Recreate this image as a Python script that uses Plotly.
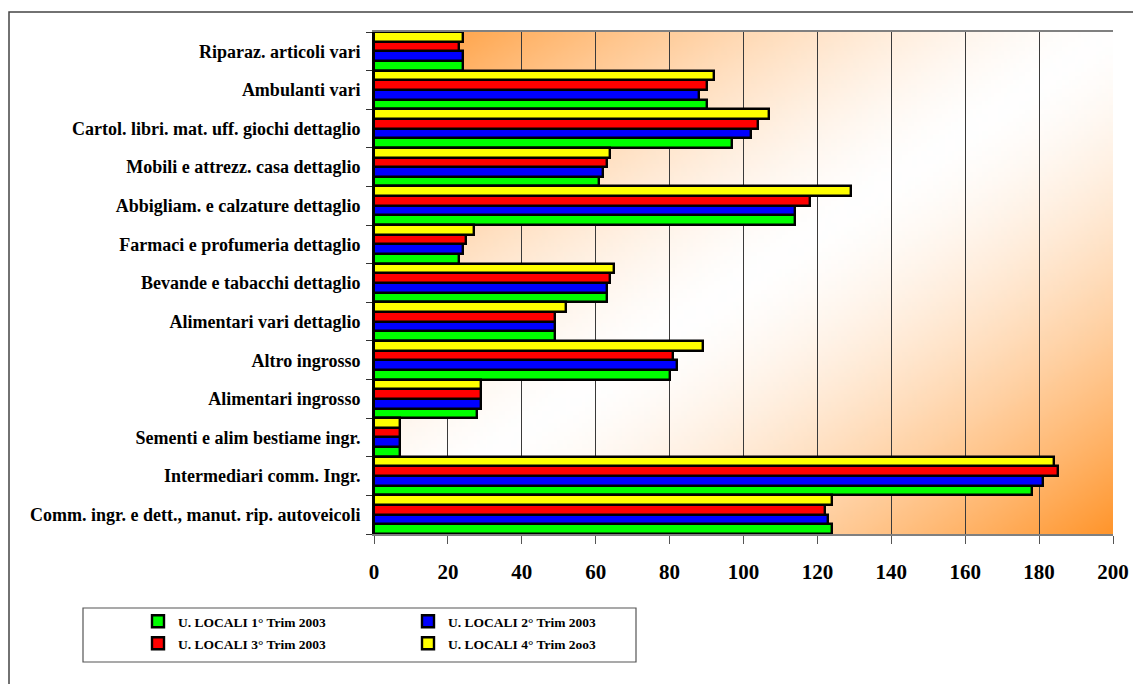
import base64
import struct
import zlib

import numpy as np
import plotly.graph_objects as go

categories = [
    "Comm. ingr. e dett., manut. rip. autoveicoli",
    "Intermediari comm. Ingr.",
    "Sementi e alim bestiame ingr.",
    "Alimentari ingrosso",
    "Altro ingrosso",
    "Alimentari vari dettaglio",
    "Bevande e tabacchi dettaglio",
    "Farmaci e profumeria dettaglio",
    "Abbigliam. e calzature dettaglio",
    "Mobili e attrezz. casa dettaglio",
    "Cartol. libri. mat. uff. giochi dettaglio",
    "Ambulanti vari",
    "Riparaz. articoli vari",
]

trim1 = [124, 178, 7, 28, 80, 49, 63, 23, 114, 61, 97, 90, 24]
trim2 = [123, 181, 7, 29, 82, 49, 63, 24, 114, 62, 102, 88, 24]
trim3 = [122, 185, 7, 29, 81, 49, 64, 25, 118, 63, 104, 90, 23]
trim4 = [124, 184, 7, 29, 89, 52, 65, 27, 129, 64, 107, 92, 24]

series_names = [
    "U. LOCALI 1° Trim 2003",
    "U. LOCALI 2° Trim 2003",
    "U. LOCALI 3° Trim 2003",
    "U. LOCALI 4° Trim 2oo3",
]
series_values = [trim1, trim2, trim3, trim4]
series_colors = ["#00FF00", "#0000FF", "#FF0000", "#FFFF00"]
series_legends = ["legend", "legend", "legend2", "legend2"]

x_ticks = [0, 20, 40, 60, 80, 100, 120, 140, 160, 180, 200]


def make_gradient_png(w=240, h=120):
    u = np.linspace(0, 1, w)[None, :]
    v = np.linspace(1, 0, h)[:, None]
    t = np.abs(u - v) ** 1.5
    orange = np.array([255, 150, 45], dtype=float)
    white = np.array([255, 255, 255], dtype=float)
    img = white[None, None, :] * (1 - t[..., None]) + orange[None, None, :] * t[..., None]
    img = np.clip(img, 0, 255).astype(np.uint8)
    raw = b"".join(b"\x00" + img[r].tobytes() for r in range(h))

    def chunk(tag, data):
        c = struct.pack(">I", len(data)) + tag + data
        return c + struct.pack(">I", zlib.crc32(tag + data) & 0xFFFFFFFF)

    png = b"\x89PNG\r\n\x1a\n"
    png += chunk(b"IHDR", struct.pack(">IIBBBBB", w, h, 8, 2, 0, 0, 0))
    png += chunk(b"IDAT", zlib.compress(raw, 9))
    png += chunk(b"IEND", b"")
    return "data:image/png;base64," + base64.b64encode(png).decode()


font_family = "Liberation Serif"

# plot area in pixels
PL, PR, PT, PB = 374, 1113, 32, 534
PW, PH = PR - PL, PB - PT

fig = go.Figure()
for name, vals, col, lg in zip(series_names, series_values, series_colors, series_legends):
    fig.add_trace(
        go.Bar(
            y=categories,
            x=vals,
            name=name,
            orientation="h",
            legend=lg,
            marker=dict(color=col, line=dict(color="black", width=2.4)),
        )
    )

legend_common = dict(
    orientation="h",
    x=(138 - PL) / PW,
    xanchor="left",
    yanchor="top",
    entrywidth=225,
    entrywidthmode="pixels",
    itemwidth=30,
    font=dict(family=font_family, size=13.5, color="black", weight="bold"),
    bgcolor="rgba(0,0,0,0)",
    tracegroupgap=0,
)

fig.update_layout(
    width=1133,
    height=684,
    margin=dict(l=PL, r=1133 - PR, t=PT, b=684 - PB, autoexpand=False),
    barmode="group",
    bargap=0,
    bargroupgap=0,
    paper_bgcolor="white",
    plot_bgcolor="white",
    showlegend=True,
    legend=dict(legend_common, y=-(606 - PB) / PH),
    legend2=dict(legend_common, y=-(628 - PB) / PH),
    xaxis=dict(
        range=[0, 200],
        tickvals=x_ticks,
        showgrid=True,
        gridcolor="#3a3a3a",
        gridwidth=1,
        zeroline=False,
        showline=True,
        linecolor="#808080",
        linewidth=2,
        mirror=True,
        ticks="outside",
        ticklen=8,
        tickcolor="#555555",
        tickfont=dict(family=font_family, size=21, color="black", weight="bold"),
        ticklabelstandoff=10,
        automargin=False,
    ),
    yaxis=dict(
        categoryorder="array",
        categoryarray=categories,
        showgrid=False,
        zeroline=False,
        showline=True,
        linecolor="black",
        linewidth=2,
        ticks="outside",
        tickson="boundaries",
        ticklen=6,
        tickcolor="#333333",
        tickfont=dict(family=font_family, size=18, color="black", weight="bold"),
        ticklabelstandoff=8,
        automargin=False,
    ),
    images=[
        dict(
            source=make_gradient_png(),
            xref="x domain",
            yref="y domain",
            x=0,
            y=1,
            sizex=1,
            sizey=1,
            sizing="stretch",
            layer="below",
            xanchor="left",
            yanchor="top",
        )
    ],
    shapes=[
        dict(
            type="rect",
            xref="paper",
            yref="paper",
            x0=(9 - PL) / PW,
            x1=1.1,
            y0=-0.4,
            y1=1 + (PT - 12) / PH,
            line=dict(color="#444444", width=1.5),
            fillcolor="rgba(0,0,0,0)",
            layer="below",
        ),
        dict(
            type="rect",
            xref="paper",
            yref="paper",
            x0=(83 - PL) / PW,
            x1=(636 - PL) / PW,
            y0=-(662 - PB) / PH,
            y1=-(608 - PB) / PH,
            line=dict(color="#555555", width=1.2),
            fillcolor="rgba(0,0,0,0)",
        ),
    ],
)

fig.write_html(
    "out.html",
    config={"displayModeBar": False},
    post_script="document.body.style.margin='0';document.body.style.overflow='hidden';",
)
